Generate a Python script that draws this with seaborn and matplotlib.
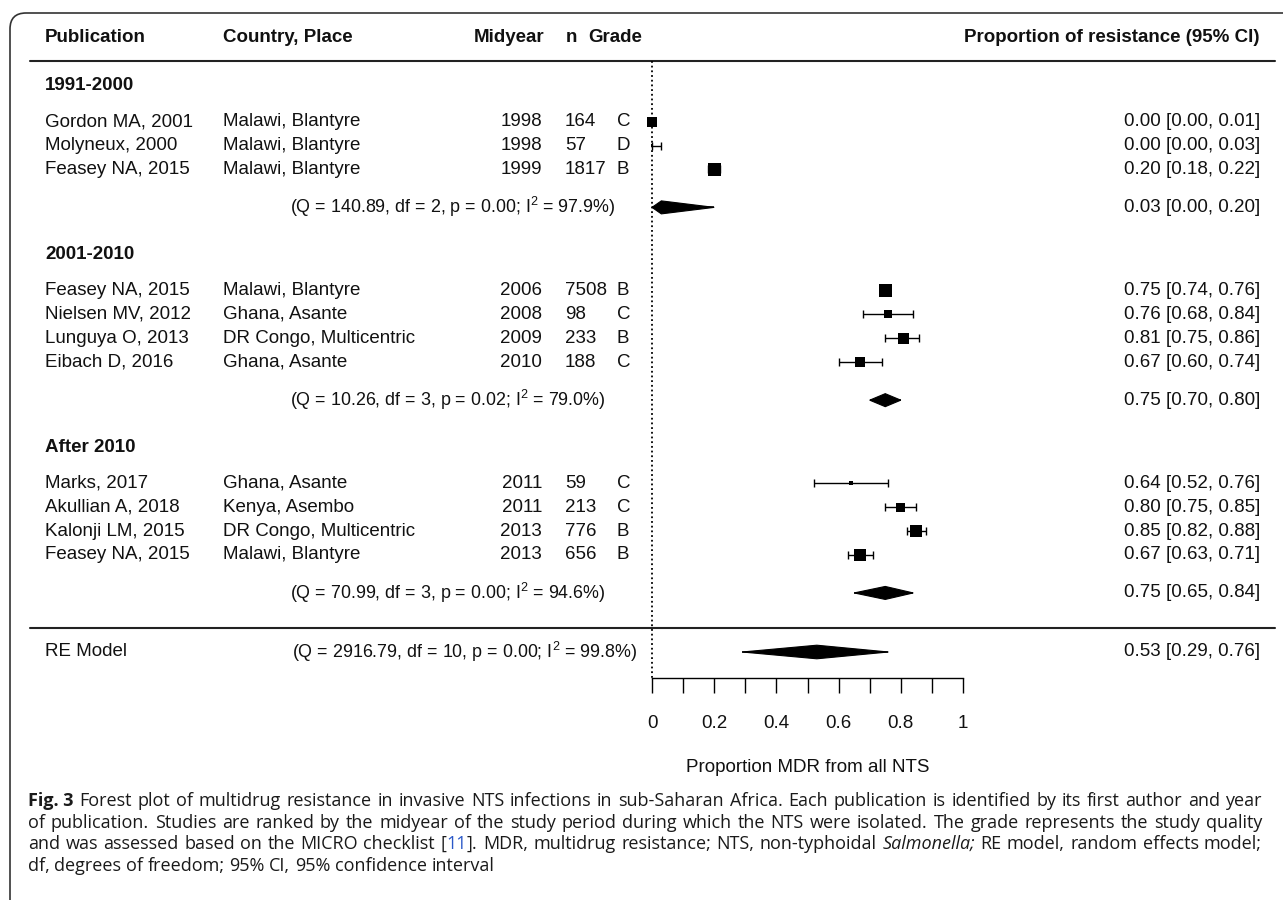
import numpy as np
import matplotlib
matplotlib.use("Agg")
import matplotlib.pyplot as plt
from matplotlib.patches import FancyBboxPatch
from matplotlib.transforms import IdentityTransform
import seaborn as sns

# ---- data ----
group_names = ["1991-2000", "2001-2010", "After 2010"]
publication = ["Gordon MA, 2001", "Molyneux, 2000", "Feasey NA, 2015",
               "Feasey NA, 2015", "Nielsen MV, 2012", "Lunguya O, 2013", "Eibach D, 2016",
               "Marks, 2017", "Akullian A, 2018", "Kalonji LM, 2015", "Feasey NA, 2015"]
place = ["Malawi, Blantyre", "Malawi, Blantyre", "Malawi, Blantyre",
         "Malawi, Blantyre", "Ghana, Asante", "DR Congo, Multicentric", "Ghana, Asante",
         "Ghana, Asante", "Kenya, Asembo", "DR Congo, Multicentric", "Malawi, Blantyre"]
midyear = [1998, 1998, 1999, 2006, 2008, 2009, 2010, 2011, 2011, 2013, 2013]
n_isolates = [164, 57, 1817, 7508, 98, 233, 188, 59, 213, 776, 656]
grade = ["C", "D", "B", "B", "C", "B", "C", "C", "C", "B", "B"]
group_of = [0, 0, 0, 1, 1, 1, 1, 2, 2, 2, 2]
est = [0.00, 0.00, 0.20, 0.75, 0.76, 0.81, 0.67, 0.64, 0.80, 0.85, 0.67]
ci_lo = [0.00, 0.00, 0.18, 0.74, 0.68, 0.75, 0.60, 0.52, 0.75, 0.82, 0.63]
ci_hi = [0.01, 0.03, 0.22, 0.76, 0.84, 0.86, 0.74, 0.76, 0.85, 0.88, 0.71]
# relative study weight (%)
box_weight = [9.0, 0.8, 15.1, 15.1, 5.7, 10.8, 9.0, 1.4, 7.3, 12.9, 12.9]

group_q = [140.89, 10.26, 70.99]
group_df = [2, 3, 3]
group_p = [0.00, 0.02, 0.00]
group_i2 = [97.9, 79.0, 94.6]
group_est = [0.03, 0.75, 0.75]
group_lo = [0.00, 0.70, 0.65]
group_hi = [0.20, 0.80, 0.84]

re_q, re_df, re_p, re_i2 = 2916.79, 10, 0.00, 99.8
re_est, re_lo, re_hi = 0.53, 0.29, 0.76

x_ticks = [0, 0.2, 0.4, 0.6, 0.8, 1]
x_tick_labels = ["0", "0.2", "0.4", "0.6", "0.8", "1"]

caption = [
    [("Fig. 3", "b"), "Forest plot of multidrug resistance in invasive NTS infections in sub-Saharan Africa. "
     "Each publication is identified by its first author and year"],
    ["of publication. Studies are ranked by the midyear of the study period during which the NTS were "
     "isolated. The grade represents the study quality"],
    ["and was assessed based on the MICRO checklist", [("[", ""), ("11", "link"), ("].", "")],
     "MDR, multidrug resistance; NTS, non-typhoidal", ("Salmonella;", "i"),
     "RE model, random effects model;"],
    ["df, degrees of freedom; 95% CI, 95% confidence interval"],
]

# ---- figure ----
sns.set_theme(style="white")
plt.rcParams["font.family"] = ["Liberation Sans", "DejaVu Sans"]
plt.rcParams["mathtext.default"] = "regular"

W, H = 1283, 900
INK = "#111111"
FS = 13.5
FS_Q = 12.9
fig = plt.figure(figsize=(W / 100, H / 100), dpi=100)
ax = fig.add_axes([0, 0, 1, 1])
x0_px, unit_px = 652, 311
ax.set_xlim(-x0_px / unit_px, (W - x0_px) / unit_px)
ax.set_ylim(H, 0)
ax.axis("off")
tr = ax.get_yaxis_transform()


def fx(p):
    return p / W


# row layout (pixels from top)
u = 23.8
y = 86.0
heading_y, study_y, summary_y = [], [], []
for g in range(len(group_names)):
    heading_y.append(y)
    y += 1.5 * u
    idx = [i for i in range(len(publication)) if group_of[i] == g]
    for k, i in enumerate(idx):
        study_y.append(y)
        if k < len(idx) - 1:
            y += u
    y += 1.6 * u
    summary_y.append(y)
    y += 2.0 * u
re_y = 652
sep_y = 628
head_y = 38
axis_y = 678

# header
ax.text(fx(45), head_y, "Publication", transform=tr, fontsize=FS, weight="bold", va="center", color=INK)
ax.text(fx(223), head_y, "Country, Place", transform=tr, fontsize=FS, weight="bold", va="center", color=INK)
ax.text(fx(474), head_y, "Midyear", transform=tr, fontsize=FS, weight="bold", va="center", color=INK)
ax.text(fx(566), head_y, "n", transform=tr, fontsize=FS, weight="bold", va="center", color=INK)
ax.text(fx(588), head_y, "Grade", transform=tr, fontsize=FS, weight="bold", va="center", color=INK)
ax.text(fx(1260), head_y, "Proportion of resistance (95% CI)", transform=tr, fontsize=FS,
        weight="bold", va="center", ha="right", color=INK)
ax.axhline(61, xmin=fx(30), xmax=fx(1275), color="#222222", lw=1.5)
ax.axhline(sep_y, xmin=fx(30), xmax=fx(1275), color="#222222", lw=1.5)

# group headings and study rows
for g, name in enumerate(group_names):
    ax.text(fx(45), heading_y[g], name, transform=tr, fontsize=FS, weight="bold", va="center", color=INK)

for i in range(len(publication)):
    yy = study_y[i]
    ax.text(fx(45), yy, publication[i], transform=tr, fontsize=FS, va="center", color=INK)
    ax.text(fx(223), yy, place[i], transform=tr, fontsize=FS, va="center", color=INK)
    ax.text(fx(542), yy, str(midyear[i]), transform=tr, fontsize=FS, va="center", ha="right", color=INK)
    ax.text(fx(565), yy, str(n_isolates[i]), transform=tr, fontsize=FS, va="center", color=INK)
    ax.text(fx(617), yy, grade[i], transform=tr, fontsize=FS, va="center", color=INK)
    ax.text(fx(1260), yy, f"{est[i]:.2f} [{ci_lo[i]:.2f}, {ci_hi[i]:.2f}]", transform=tr,
            fontsize=FS, va="center", ha="right", color=INK)

# confidence intervals and weighted boxes
est_a, lo_a, hi_a = np.array(est), np.array(ci_lo), np.array(ci_hi)
ax.errorbar(est_a, study_y, xerr=[est_a - lo_a, hi_a - est_a], fmt="none", ecolor="black",
            elinewidth=1.0, capsize=3, capthick=1.0, zorder=3)
k_area = 5.8
sns.scatterplot(x=est, y=study_y, size=box_weight,
                sizes=(k_area * min(box_weight), k_area * max(box_weight)),
                marker="s", color="black", linewidth=0, legend=False, ax=ax, zorder=4)


def summary_shape(e, lo, hi, yc, half=6.5):
    xs = [lo, e, hi, e]
    ys = [yc, yc - half, yc, yc + half]
    ax.fill(xs, ys, color="black", lw=0.8, ec="black", zorder=4)
    ax.hlines(yc, lo, hi, colors="black", lw=1.1, zorder=4)


for g in range(len(group_names)):
    summary_shape(group_est[g], group_lo[g], group_hi[g], summary_y[g])
    ax.text(fx(290), summary_y[g],
            f"(Q = {group_q[g]:.2f}, df = {group_df[g]}, p = {group_p[g]:.2f}; I$^2$ = {group_i2[g]:.1f}%)",
            transform=tr, fontsize=FS_Q, va="center", color=INK)
    ax.text(fx(1260), summary_y[g], f"{group_est[g]:.2f} [{group_lo[g]:.2f}, {group_hi[g]:.2f}]",
            transform=tr, fontsize=FS, va="center", ha="right", color=INK)

summary_shape(re_est, re_lo, re_hi, re_y, half=6.8)
ax.text(fx(45), re_y, "RE Model", transform=tr, fontsize=FS, va="center", color=INK)
ax.text(fx(292), re_y, f"(Q = {re_q:.2f}, df = {re_df}, p = {re_p:.2f}; I$^2$ = {re_i2:.1f}%)",
        transform=tr, fontsize=FS_Q, va="center", color=INK)
ax.text(fx(1260), re_y, f"{re_est:.2f} [{re_lo:.2f}, {re_hi:.2f}]", transform=tr,
        fontsize=FS, va="center", ha="right", color=INK)

# reference line at zero
ax.vlines(0, 61, axis_y, colors="black", linestyles=(0, (1, 1.6)), lw=1.3, zorder=2)

# bottom scale
sc = fig.add_axes([x0_px / W, 1 - axis_y / H, unit_px / W, 1e-4])
sc.set_xlim(0, 1)
sc.set_yticks([])
for s in ["top", "left", "right"]:
    sc.spines[s].set_visible(False)
sc.spines["bottom"].set_color("black")
sc.spines["bottom"].set_linewidth(1.0)
sc.set_xticks(x_ticks)
sc.set_xticklabels(x_tick_labels)
sc.set_xticks(np.arange(0.1, 1.0, 0.2), minor=True)
sc.tick_params(axis="x", which="both", direction="out", length=10.8, width=1.0, color="black",
               bottom=True)
sc.tick_params(axis="x", which="major", pad=16, labelsize=FS, labelcolor=INK)
sc.set_xlabel("Proportion MDR from all NTS", fontsize=FS, color=INK, labelpad=19)
sc.patch.set_alpha(0)

# frame around the figure panel
frame = FancyBboxPatch((10, -300), 1600, 300 + (H - 13), boxstyle="round,pad=0,rounding_size=16",
                       transform=IdentityTransform(), fill=False, ec="#333333", lw=1.2, clip_on=False)
fig.add_artist(frame)

# caption, justified like the journal layout
renderer = fig.canvas.get_renderer()
cap_base = dict(family=["Open Sans", "DejaVu Sans"], size=11.0, color="#1a1a1a")
styles = {"": {}, "b": {"weight": "bold"}, "i": {"style": "italic"}, "link": {"color": "#2a58c8"}}


def seg_props(st):
    props = dict(cap_base)
    props.update(styles[st])
    return props


def seg_width(s, st):
    t = fig.text(0, 0, s, transform=IdentityTransform(), **seg_props(st))
    w = t.get_window_extent(renderer).width
    t.remove()
    return w


def words_of(line):
    out = []
    for item in line:
        if isinstance(item, str):
            out += [[(w, "")] for w in item.split()]
        elif isinstance(item, tuple):
            out.append([item])
        else:
            out.append(list(item))
    return out


cap_left, cap_right = 28, 1262
cap_y = [801, 823, 844, 866]

# pick the caption size so the justified lines need only a little extra spacing
space_w = seg_width("a a", "") - seg_width("aa", "")
natural = []
for line in caption[:-1]:
    words = words_of(line)
    natural.append(sum(seg_width(s, st) for wd in words for s, st in wd) + space_w * (len(words) - 1))
cap_base["size"] = cap_base["size"] * 0.99 * (cap_right - cap_left) / max(natural)

space_w = seg_width("a a", "") - seg_width("aa", "")
for li, line in enumerate(caption):
    words = words_of(line)
    widths = [sum(seg_width(s, st) for s, st in wd) for wd in words]
    gap = space_w
    if li < len(caption) - 1:
        gap = (cap_right - cap_left - sum(widths)) / (len(words) - 1)
    xp = cap_left
    for wd, ww in zip(words, widths):
        xs = xp
        for s, st in wd:
            fig.text(xs, H - cap_y[li], s, transform=IdentityTransform(), va="center", **seg_props(st))
            xs += seg_width(s, st)
        xp += ww + gap

fig.savefig("out.png", dpi=100)
